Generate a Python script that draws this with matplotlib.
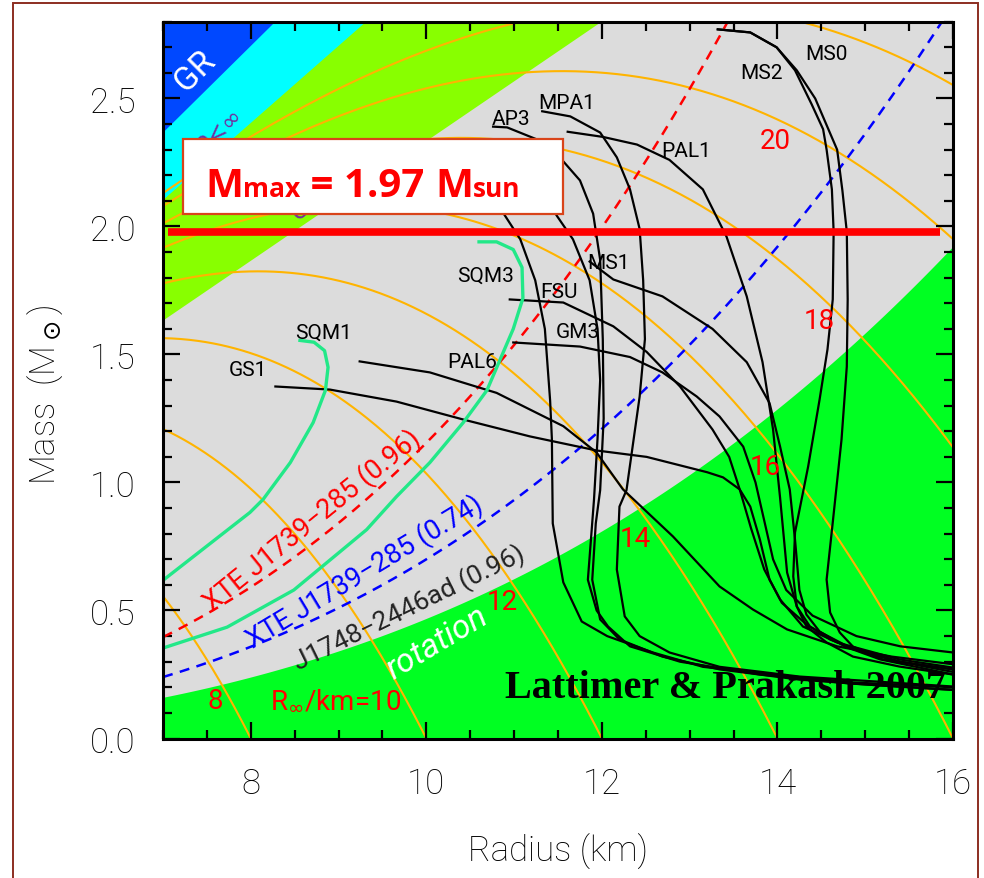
import numpy as np
import matplotlib
matplotlib.use('Agg')
import matplotlib.pyplot as plt
from matplotlib.patches import Rectangle
from matplotlib import font_manager as fm

names = {f.name for f in fm.fontManager.ttflist}
def pick(cands):
    for c in cands:
        if c in names:
            return c
    return 'DejaVu Sans'
SANS = pick(['Roboto', 'Liberation Sans', 'DejaVu Sans'])
BOXF = pick(['Open Sans', 'Liberation Sans'])
SERIF = pick(['Liberation Serif', 'DejaVu Serif'])
LW = 'light'

# ---------------- axes ----------------
R_LIM = (7.0, 16.0)
M_LIM = (0.0, 2.8)
X_TICKS = [8, 10, 12, 14, 16]
X_TICKLABELS = ['8', '10', '12', '14', '16']
Y_TICKS = [0.0, 0.5, 1.0, 1.5, 2.0, 2.5]
Y_TICKLABELS = ['0.0', '0.5', '1.0', '1.5', '2.0', '2.5']

# ---------------- constraint regions ----------------
GR_KM = 2.953        # R = 2GM/c^2   (km per Msun)
PINF_KM = 3.322      # R = 9/4 GM/c^2
CAUSAL_KM = 4.28     # causality
ROT_COEF = 0.4694    # J1748-2446ad spin: M = c (R/10km)^3
XTE_RED_COEF = 1.155
XTE_BLUE_COEF = 0.70
R_INF = [8, 10, 12, 14, 16, 18, 20, 22]
M_MAX_LINE = 1.98

# ---------------- EOS curves (R km, M Msun) ----------------
gs1_r = [8.28, 8.90, 9.66, 10.42, 11.18, 11.94, 12.51, 13.20, 13.38, 13.57, 13.69, 13.80, 13.91, 14.03, 14.29, 14.68, 15.39, 16.0]
gs1_m = [1.375, 1.363, 1.316, 1.246, 1.18, 1.125, 1.10, 1.04, 1.02, 0.973, 0.906, 0.777, 0.62, 0.543, 0.4375, 0.375, 0.309, 0.277]

pal6_r = [9.24, 10.04, 10.80, 11.56, 11.94, 12.24, 12.81, 13.34, 13.72, 14.11, 14.68, 15.3, 16.0]
pal6_m = [1.473, 1.43, 1.35, 1.22, 1.117, 0.973, 0.789, 0.594, 0.504, 0.426, 0.36, 0.32, 0.29]

gm3_r = [10.99, 11.75, 12.32, 12.69, 13.08, 13.34, 13.61, 13.75, 13.85, 13.95, 14.10, 14.40, 14.90, 15.40, 16.0]
gm3_m = [1.547, 1.531, 1.49, 1.43, 1.336, 1.258, 1.14, 1.0, 0.85, 0.70, 0.58, 0.48, 0.40, 0.36, 0.336]

fsu_r = [10.95, 11.56, 12.13, 12.51, 12.89, 13.26, 13.45, 13.57, 13.70, 13.85, 14.05, 14.35, 14.80, 15.40, 16.0]
fsu_m = [1.715, 1.703, 1.61, 1.51, 1.375, 1.207, 1.10, 0.973, 0.82, 0.66, 0.53, 0.44, 0.36, 0.30, 0.27]

ms1_r = [11.86, 12.13, 12.69, 13.26, 13.65, 13.91, 14.03, 14.14, 14.20, 14.25, 14.33, 14.48, 14.77, 15.17, 16.0]
ms1_m = [1.863, 1.793, 1.727, 1.60, 1.47, 1.31, 1.14, 0.973, 0.777, 0.58, 0.484, 0.418, 0.359, 0.309, 0.25]

ap3_r = [10.76, 10.92, 11.26, 11.52, 11.75, 11.90, 11.98, 12.01, 12.02, 11.98, 11.93, 11.89, 11.98, 12.20, 12.69, 13.34, 14.25, 15.17, 16.0]
ap3_m = [2.39, 2.387, 2.34, 2.27, 2.18, 2.05, 1.87, 1.56, 1.25, 0.97, 0.84, 0.62, 0.465, 0.387, 0.32, 0.27, 0.23, 0.207, 0.19]

eng_r = [10.3, 10.6, 10.9, 11.07, 11.24, 11.35, 11.41, 11.43, 11.44, 11.56, 11.77, 12.06, 12.58, 13.15, 13.72, 14.86, 16.0]
eng_m = [2.28, 2.2, 2.04, 1.95, 1.79, 1.60, 1.32, 1.17, 0.84, 0.61, 0.457, 0.40, 0.336, 0.28, 0.258, 0.219, 0.20]

ap4_r = [10.9, 11.2, 11.49, 11.67, 11.86, 11.95, 11.98, 11.95, 11.91, 11.84, 11.94, 12.07, 12.32, 12.89, 13.80, 14.82, 16.0]
ap4_m = [2.30, 2.20, 2.04, 1.95, 1.79, 1.60, 1.40, 1.17, 0.934, 0.62, 0.50, 0.4375, 0.36, 0.30, 0.25, 0.215, 0.19]

mpa1_r = [11.32, 11.64, 11.98, 12.17, 12.32, 12.43, 12.47, 12.49, 12.43, 12.28, 12.20, 12.17, 12.26, 12.43, 12.77, 13.34, 14.25, 16.0]
mpa1_m = [2.45, 2.43, 2.367, 2.27, 2.145, 1.99, 1.79, 1.56, 1.336, 0.97, 0.906, 0.66, 0.477, 0.40, 0.336, 0.28, 0.242, 0.203]

pal1_r = [11.61, 12.01, 12.40, 12.77, 13.15, 13.42, 13.65, 13.83, 13.95, 14.03, 14.11, 14.22, 14.37, 14.60, 14.94, 15.39, 16.0]
pal1_m = [2.37, 2.35, 2.32, 2.26, 2.145, 1.96, 1.727, 1.47, 1.207, 0.94, 0.648, 0.516, 0.4375, 0.387, 0.34, 0.30, 0.26]

ms0_r = [13.32, 13.69, 13.99, 14.22, 14.43, 14.58, 14.68, 14.74, 14.79, 14.80, 14.79, 14.73, 14.63, 14.56, 14.60, 14.71, 14.86, 15.20, 16.0]
ms0_m = [2.77, 2.758, 2.70, 2.61, 2.50, 2.38, 2.30, 2.14, 1.98, 1.715, 1.453, 1.168, 0.844, 0.621, 0.492, 0.414, 0.359, 0.309, 0.27]

ms2_r = [13.32, 13.69, 13.99, 14.20, 14.39, 14.52, 14.56, 14.62, 14.64, 14.63, 14.57, 14.48, 14.35, 14.20, 14.18, 14.22, 14.33, 14.56, 14.86, 15.39, 16.0]
ms2_m = [2.77, 2.758, 2.70, 2.61, 2.477, 2.38, 2.30, 2.145, 1.98, 1.715, 1.52, 1.324, 1.063, 0.805, 0.633, 0.516, 0.4375, 0.375, 0.32, 0.281, 0.25]

sqm1_r = [6.97, 7.99, 8.14, 8.45, 8.71, 8.85, 8.88, 8.84, 8.72, 8.56]
sqm1_m = [0.61, 0.883, 0.934, 1.078, 1.234, 1.36, 1.45, 1.515, 1.548, 1.555]

sqm3_r = [6.97, 7.73, 8.49, 9.32, 9.66, 10.04, 10.42, 10.69, 10.99, 11.10, 11.09, 10.99, 10.80, 10.60]
sqm3_m = [0.35, 0.435, 0.58, 0.816, 0.945, 1.078, 1.234, 1.36, 1.60, 1.72, 1.84, 1.91, 1.94, 1.94]

black_curves = [gs1_r, gs1_m, pal6_r, pal6_m, gm3_r, gm3_m, fsu_r, fsu_m, ms1_r, ms1_m,
                ap3_r, ap3_m, eng_r, eng_m, ap4_r, ap4_m, mpa1_r, mpa1_m, pal1_r, pal1_m,
                ms0_r, ms0_m, ms2_r, ms2_m]

# labels: (text, R, M)
eos_labels = [('GS1', 7.97, 1.44), ('SQM1', 8.83, 1.585), ('PAL6', 10.52, 1.473),
              ('GM3', 11.72, 1.59), ('FSU', 11.51, 1.746), ('MS1', 12.07, 1.86),
              ('SQM3', 10.67, 1.81), ('AP3', 10.97, 2.42), ('MPA1', 11.6, 2.485),
              ('PAL1', 12.96, 2.297), ('MS2', 13.82, 2.60), ('MS0', 14.56, 2.675)]
rinf_labels = [('8', 7.59, 0.15), (r'R$_\infty$/km=10', 8.96, 0.152), ('12', 10.87, 0.535),
               ('14', 12.38, 0.78), ('16', 13.86, 1.063), ('18', 14.48, 1.633), ('20', 13.97, 2.336)]

# ---------------- figure ----------------
fig = plt.figure(figsize=(9.84, 8.79), dpi=100)
ax = fig.add_axes([0.1657, 0.1587, 0.8028, 0.8155])
ax.set_xlim(*R_LIM)
ax.set_ylim(*M_LIM)
ax.set_facecolor('#dcdcdc')

rr = np.linspace(R_LIM[0], R_LIM[1], 400)
ax.fill_between(rr, rr / CAUSAL_KM, 5, color='#88ff00', lw=0, zorder=0.5)
ax.fill_between(rr, rr / PINF_KM, 5, color='#00ffff', lw=0, zorder=0.6)
ax.fill_between(rr, rr / GR_KM, 5, color='#0048ff', lw=0, zorder=0.7)
ax.fill_between(rr, -1, ROT_COEF * (rr / 10) ** 3, color='#00ff22', lw=0, zorder=0.8)

for rinf in R_INF:
    r = np.linspace(R_LIM[0], min(rinf, R_LIM[1]), 300)
    m = r * (1 - (r / rinf) ** 2) / GR_KM
    ax.plot(r, m, color='#ffb400', lw=1.5, zorder=1)

ax.plot(rr, XTE_RED_COEF * (rr / 10) ** 3, color='#ff0000', lw=1.8, dashes=(4, 3), zorder=2)
ax.plot(rr, XTE_BLUE_COEF * (rr / 10) ** 3, color='#0000ff', lw=1.8, dashes=(4, 3), zorder=2)

for i in range(0, len(black_curves), 2):
    ax.plot(black_curves[i], black_curves[i + 1], color='black', lw=1.6, zorder=3)
ax.plot(sqm1_r, sqm1_m, color='#22e888', lw=2.4, zorder=3)
ax.plot(sqm3_r, sqm3_m, color='#22e888', lw=2.4, zorder=3)

for t, r, m in eos_labels:
    ax.text(r, m, t, fontsize=15, family=SANS, ha='center', va='center', color='black', zorder=5)
for t, r, m in rinf_labels:
    ax.text(r, m, t, fontsize=20, family=SANS, ha='center', va='center',
            color='#ff0000', zorder=5)

ax.text(8.697, 0.855, 'XTE J1739\u2212285 (0.96)', rotation=39, rotation_mode='anchor',
        ha='center', va='center', fontsize=19.5, family=SANS, color='#ff0000', zorder=5)
ax.text(9.30, 0.655, 'XTE J1739\u2212285 (0.74)', rotation=31, rotation_mode='anchor',
        ha='center', va='center', fontsize=19.5, family=SANS, color='#0000ff', zorder=5)
ax.text(9.81, 0.512, 'J1748\u22122446ad (0.96)', rotation=26, rotation_mode='anchor',
        ha='center', va='center', fontsize=19, family=SANS, color='#222222', zorder=5)
ax.text(10.12, 0.375, 'rotation', rotation=31, rotation_mode='anchor', style='italic',
        ha='center', va='center', fontsize=24, family=SANS, color='white', zorder=5)
ax.text(7.36, 2.61, 'GR', rotation=45, rotation_mode='anchor',
        ha='center', va='center', fontsize=24, family=SANS, color='white', zorder=5)
ax.text(7.86, 2.455, 'P<\u221e', rotation=45, rotation_mode='anchor',
        ha='right', va='center', fontsize=17, family='DejaVu Sans', color='#7030a0', zorder=5)
ax.text(8.99, 2.18, 'causality', rotation=37, rotation_mode='anchor',
        ha='center', va='center', fontsize=18, family='DejaVu Sans', color='#7030a0', zorder=5)

ax.plot([7.06, 15.85], [M_MAX_LINE, M_MAX_LINE], color='#ff0000', lw=5.5,
        solid_capstyle='butt', zorder=6)

ax.text(10.895, 0.164, 'Lattimer & Prakash 2007', fontsize=29, fontweight='bold', family=SERIF,
        ha='left', va='baseline', color='black', zorder=7)

# ticks
ax.set_xticks(X_TICKS)
ax.set_xticklabels(X_TICKLABELS)
ax.set_yticks(Y_TICKS)
ax.set_yticklabels(Y_TICKLABELS)
ax.set_xticks(np.arange(7.0, 16.01, 0.5), minor=True)
ax.set_yticks(np.arange(0.0, 2.801, 0.1), minor=True)
ax.tick_params(which='both', direction='in', top=True, right=True, width=1.6, color='black', zorder=8)
ax.tick_params(which='major', length=12, labelsize=25, pad=20)
ax.tick_params(which='minor', length=6.5)
for lab in ax.get_xticklabels() + ax.get_yticklabels():
    lab.set_family(SANS)
    lab.set_fontweight(LW)
for sp in ax.spines.values():
    sp.set_linewidth(2.2)
    sp.set_zorder(9)

fig.text(0.567, 0.031, 'Radius (km)', fontsize=25, family=SANS, fontweight=LW, ha='center', va='center')
fig.text(0.046, 0.551, r'Mass  (M$_\odot$)', fontsize=25, family=SANS, fontweight=LW,
         ha='center', va='center', rotation=90)

# M_max box
box = Rectangle((0.186, 0.7554), 0.386, 0.0853, transform=fig.transFigure,
                facecolor='white', edgecolor='#d9441a', lw=1.6, zorder=10)
fig.add_artist(box)
renderer = fig.canvas.get_renderer()
pieces = [('M', 29), ('max', 19), (' = 1.97 ', 29), ('M', 29), ('sun', 19)]
x = 0.2083
for s, size in pieces:
    t = fig.text(x, 0.7759, s, fontsize=size, fontweight='bold', color='#ff0000', family=BOXF,
                 ha='left', va='baseline', zorder=11)
    bb = t.get_window_extent(renderer)
    x = fig.transFigure.inverted().transform((bb.x1, bb.y0))[0]

# outer frame
frame = Rectangle((0.0132, -0.02), 0.9807, 1.0154, transform=fig.transFigure,
                  facecolor='none', edgecolor='#8c2d20', lw=1.4, zorder=12)
fig.add_artist(frame)

fig.savefig('out.png', dpi=100)
